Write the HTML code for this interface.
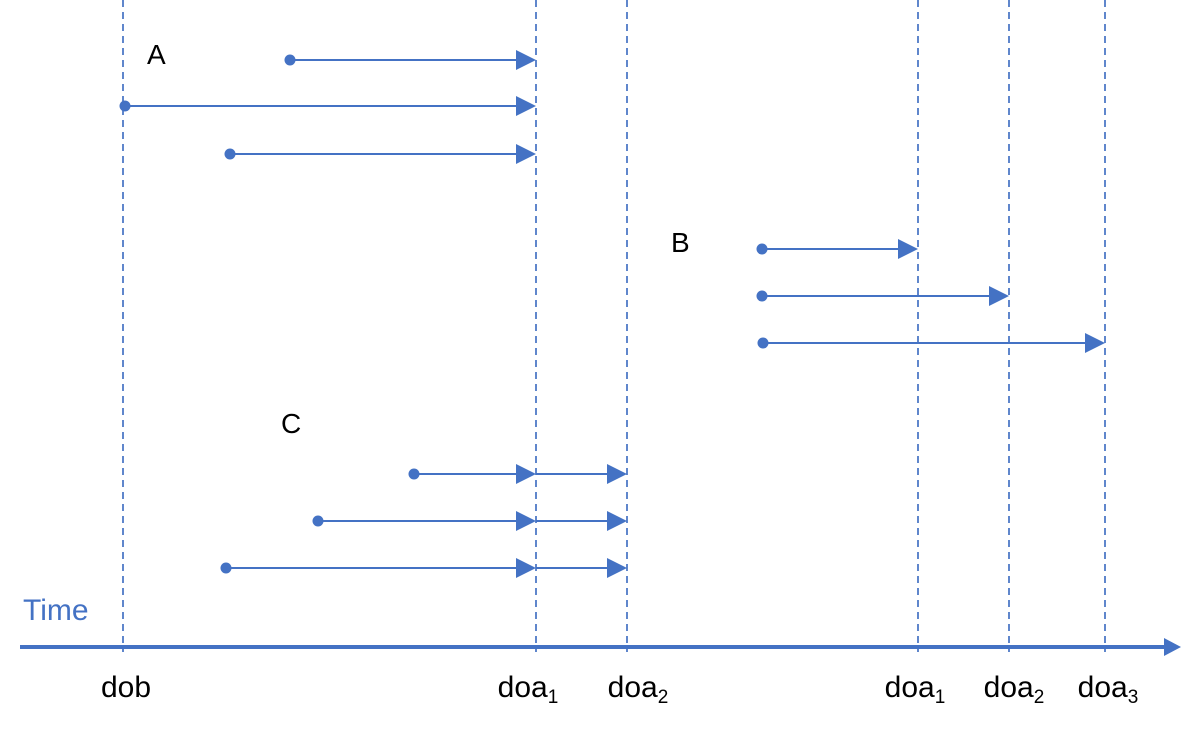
<!DOCTYPE html>
<html><head><meta charset="utf-8"><style>
html,body{margin:0;padding:0;background:#fff;}
svg{display:block;font-family:"Liberation Sans",sans-serif;}
</style></head><body>
<svg id="chart" width="1195" height="732" viewBox="0 0 1195 732">
<g id="vlines"></g>
<line x1="20" y1="647" x2="1166" y2="647" stroke="#4472C4" stroke-width="4"/>
<path d="M1164,638 L1181,647 L1164,656 z" fill="#4472C4"/>
<text x="23" y="620" font-size="30" fill="#4472C4">Time</text>
<g id="segs"></g>
<g id="labels"></g>
</svg>
<script>
const vlineX = [123, 536, 627, 918, 1009, 1105];
const tickNames = ["dob","doa","doa","doa","doa","doa"];
const tickSubs = ["","1","2","1","2","3"];
const tickCenters = [126, 528, 638, 915, 1014, 1108];
const groupNames = ["A","B","C"];
const groupLabelPos = [[147,64],[671,252],[281,433]];
const segStart = [290,125,230,762,762,763,414,318,226];
const segEnd = [536,536,536,918,1009,1105,536,536,536];
const segEnd2 = [null,null,null,null,null,null,627,627,627];
const segY = [60,106,154,249,296,343,474,521,568];
const C = "#4472C4", NS = "http://www.w3.org/2000/svg";
function mk(t, a, p){const e=document.createElementNS(NS,t);for(const k in a)e.setAttribute(k,a[k]);p.appendChild(e);return e;}
const vg=document.getElementById('vlines');
vlineX.forEach((x,i)=>{
  const l=mk('line',{x1:x,y1:0,x2:x,y2:652,stroke:C,'stroke-width':1.7,'stroke-dasharray':'7,5'},vg);
  
  
});
function arrow(x1,x2,y,g){
  const l=mk('line',{x1:x1,y1:y,x2:x2-18,y2:y,stroke:C,'stroke-width':2},g);
  
  
  const p=mk('path',{d:`M${x2-20},${y-10} L${x2},${y} L${x2-20},${y+10} z`,fill:C},g);
  
  
}
const sg=document.getElementById('segs');
segY.forEach((y,i)=>{
  arrow(segStart[i],segEnd[i],y,sg);
  if(segEnd2[i]!==null) arrow(segEnd[i],segEnd2[i],y,sg);
  const c=mk('circle',{cx:segStart[i],cy:y,r:5.5,fill:C},sg);
  
  
});
const lg=document.getElementById('labels');
groupNames.forEach((n,i)=>{
  const t=mk('text',{x:groupLabelPos[i][0],y:groupLabelPos[i][1],'font-size':28,fill:'#000'},lg);
  t.textContent=n;
  
  
});
tickNames.forEach((n,i)=>{
  const t=mk('text',{x:tickCenters[i],y:697,'font-size':30,fill:'#000','text-anchor':'middle'},lg);
  t.textContent=n;
  if(tickSubs[i]){const s=mk('tspan',{'font-size':19,dy:6},t);s.textContent=tickSubs[i];}
  
  
});
</script>
</body></html>
